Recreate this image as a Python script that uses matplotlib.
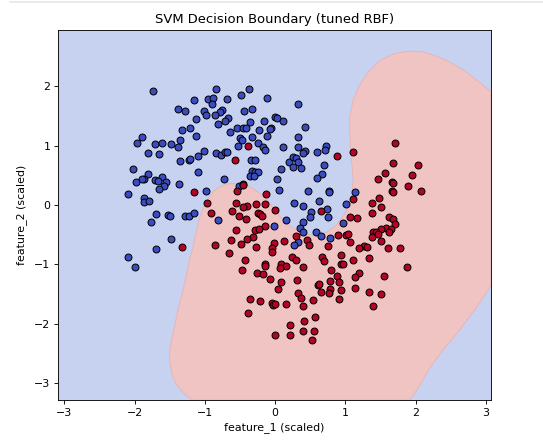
import matplotlib
matplotlib.use("Agg")
import matplotlib.pyplot as plt
from matplotlib.lines import Line2D

# class 0 points
blue_x = [-1.74,-0.84,-0.37,-0.48,-1.16,-0.96,-0.89,-0.69,-0.12,-0.90,0.33,-1.38,-1.28,-1.02,-0.99,-0.75,-0.79,-0.86,-0.44,-0.33,
          -0.01,0.02,0.11,-0.67,-0.71,-1.13,-0.82,-0.36,-0.16,-0.55,-0.46,-0.41,-0.23,-0.06,-0.07,0.42,-1.33,-1.21,-0.65,-1.90,
          -1.12,-1.36,-0.33,-0.12,-0.50,-0.47,0.33,-1.97,-1.71,-1.61,-1.48,-1.38,-0.53,-0.25,-0.18,-0.15,0.11,0.32,0.72,0.43,
          0.40,0.60,0.71,-1.81,-1.65,-1.01,-1.10,-0.84,-0.77,-0.71,-0.68,-1.35,-1.22,-1.21,-0.34,-0.29,0.19,0.26,0.30,0.33,
          0.25,0.36,0.70,-2.02,-1.10,0.08,-0.33,-0.29,-0.24,-1.81,-1.61,0.67,-1.87,-1.89,-0.36,-0.30,0.59,0.02,-0.73,-1.98,
          -1.71,-1.67,-1.56,-1.58,-1.37,-1.65,-0.52,0.05,-0.98,0.46,0.77,0.77,1.13,-2.09,-1.87,-1.87,-1.80,0.62,0.27,0.39,
          1.01,0.73,-1.70,-1.52,-1.50,-1.28,-1.23,-1.16,0.51,0.49,0.75,-1.77,-0.81,0.15,0.39,0.97,-0.02,0.35,0.40,0.58,
          0.65,0.78,-1.48,0.32,0.27,-1.70,-2.09,-1.99]
blue_y = [1.92,1.95,1.96,1.85,1.77,1.78,1.80,1.78,1.80,1.70,1.70,1.61,1.59,1.59,1.52,1.60,1.56,1.51,1.59,1.61,
          1.49,1.47,1.41,1.46,1.41,1.44,1.36,1.40,1.42,1.30,1.29,1.30,1.26,1.30,1.28,1.31,1.27,1.30,1.23,1.15,
          1.16,1.09,1.15,1.16,1.12,1.09,1.15,1.04,1.03,1.04,1.03,0.98,0.99,1.04,0.98,0.93,0.98,0.98,1.00,0.91,
          0.87,0.90,0.93,0.88,0.86,0.91,0.83,0.88,0.85,0.90,0.90,0.74,0.75,0.77,0.76,0.76,0.72,0.80,0.79,0.72,
          0.64,0.63,0.67,0.61,0.55,0.60,0.57,0.55,0.55,0.52,0.47,0.52,0.44,0.43,0.48,0.48,0.45,0.44,0.44,0.39,
          0.42,0.40,0.39,0.32,0.35,0.27,0.32,0.26,0.23,0.23,0.23,0.21,0.22,0.19,0.12,0.05,0.06,0.06,0.03,-0.01,
          0.02,-0.06,-0.15,-0.17,-0.19,-0.18,-0.18,-0.13,-0.12,-0.20,-0.21,-0.28,-0.25,-0.26,-0.28,-0.31,-0.36,-0.39,-0.45,-0.45,
          -0.53,-0.56,-0.57,-0.63,-0.67,-0.75,-0.87,-1.05]

# class 1 points
red_x = [1.71,1.10,0.88,-0.57,1.68,2.03,1.56,1.94,1.46,1.66,1.67,-0.46,-0.46,1.89,2.07,-1.15,-0.54,-0.13,1.66,1.68,
         1.48,1.11,-0.97,-0.56,-0.28,-0.40,-0.46,-0.14,1.38,1.50,0.00,-0.61,0.65,-0.92,1.38,-0.25,-0.22,-0.19,-0.51,-0.41,
         1.06,1.16,1.62,1.68,1.70,-0.15,-0.29,-0.23,-0.56,1.58,1.50,1.65,1.62,1.39,1.44,1.38,1.46,0.89,1.01,1.04,
         0.30,-0.31,-0.40,0.45,-0.63,-0.48,-0.02,0.13,1.07,1.51,-1.33,-0.86,0.48,-0.28,0.75,1.26,1.31,1.19,1.60,1.77,
         -0.05,-0.05,-0.66,0.94,-0.43,0.24,0.29,0.67,0.69,1.34,1.10,-0.14,0.08,-0.15,0.15,0.07,0.40,0.93,0.97,1.88,
         -0.47,0.79,-0.26,-0.18,1.19,-0.08,0.31,0.08,0.78,0.88,0.91,1.14,1.55,0.04,0.61,0.63,0.78,0.93,1.14,0.32,
         0.65,0.76,1.33,1.51,0.36,-0.36,-0.22,0.54,0.91,-0.04,-0.03,0.00,0.15,0.40,1.39,-0.38,0.57,0.41,0.21,0.00,
         0.21,0.39,0.55,0.52]
red_y = [1.04,0.90,0.82,0.76,0.70,0.67,0.53,0.50,0.44,0.39,0.37,0.36,0.33,0.32,0.24,0.22,0.23,0.19,0.23,0.21,
         0.11,0.10,0.04,0.03,0.02,-0.01,-0.03,0.01,0.04,-0.03,-0.09,-0.11,-0.10,-0.13,-0.13,-0.14,-0.15,-0.18,-0.19,-0.23,
         -0.21,-0.22,-0.20,-0.24,-0.32,-0.36,-0.42,-0.41,-0.42,-0.38,-0.41,-0.41,-0.45,-0.45,-0.46,-0.54,-0.49,-0.50,-0.50,-0.49,
         -0.52,-0.54,-0.57,-0.59,-0.59,-0.65,-0.64,-0.61,-0.63,-0.61,-0.71,-0.68,-0.68,-0.71,-0.69,-0.69,-0.70,-0.72,-0.72,-0.72,
         -0.73,-0.80,-0.81,-0.84,-0.92,-0.87,-0.92,-0.87,-0.94,-0.89,-0.93,-0.99,-0.99,-1.03,-1.03,-1.06,-1.04,-0.99,-0.99,-1.04,
         -1.10,-1.10,-1.15,-1.16,-1.15,-1.24,-1.26,-1.29,-1.28,-1.20,-1.29,-1.22,-1.20,-1.42,-1.34,-1.33,-1.41,-1.43,-1.40,-1.48,
         -1.47,-1.48,-1.47,-1.50,-1.57,-1.59,-1.62,-1.60,-1.58,-1.65,-1.68,-1.66,-1.66,-1.71,-1.70,-1.82,-1.89,-1.95,-2.02,-2.19,
         -2.19,-2.13,-2.12,-2.28]

# one class 1 point sits under the blue ones
hidden_x = [-0.38]
hidden_y = [0.99]

# outline of the class 1 region
region_x = [-1.19,-1.31,-1.41,-1.47,-1.50,-1.50,-1.47,-1.43,-1.39,-1.35,-1.30,-1.26,-1.22,-1.17,-1.13,-1.09,-1.04,-0.97,-0.87,-0.77,
            -0.65,-0.50,-0.36,-0.25,-0.13,-0.03,0.07,0.19,0.32,0.46,0.59,0.73,0.86,0.98,1.04,1.09,1.11,1.09,1.07,1.06,
            1.06,1.11,1.20,1.33,1.50,1.69,1.89,2.09,2.29,2.48,2.68,2.88,3.07,3.07,2.93,2.78,2.58,2.38,2.19,2.04,1.92]
region_y = [-3.285,-3.16,-3.02,-2.85,-2.65,-2.45,-2.26,-2.03,-1.80,-1.61,-1.38,-1.16,-0.93,-0.71,-0.48,-0.28,-0.09,0.08,0.24,0.32,
            0.36,0.36,0.31,0.22,0.11,-0.04,-0.20,-0.34,-0.44,-0.50,-0.52,-0.46,-0.35,-0.17,-0.03,0.17,0.42,0.70,0.98,1.21,
            1.49,1.77,2.02,2.25,2.44,2.55,2.59,2.58,2.51,2.41,2.27,2.09,1.91,-1.35,-1.61,-1.86,-2.17,-2.45,-2.76,-3.07,-3.285]

x_ticks = [-3, -2, -1, 0, 1, 2, 3]
y_ticks = [-3, -2, -1, 0, 1, 2]

W, H = 543, 443
DPI = 79
fig = plt.figure(figsize=(W / DPI, H / DPI), dpi=DPI)
ax = fig.add_axes([58 / W, 1 - 400 / H, 433 / W, 370 / H])
ax.set_facecolor("#c7d2f1")

ax.fill(region_x, region_y, facecolor="#f0c4c2", edgecolor="#e8b3b3", linewidth=0.8)

ax.scatter(hidden_x, hidden_y, s=40, c="#b40426", edgecolors="k", linewidths=0.9, zorder=3)
ax.scatter(blue_x, blue_y, s=40, c="#3b4cc0", edgecolors="k", linewidths=0.9, zorder=3)
ax.scatter(red_x, red_y, s=40, c="#b40426", edgecolors="k", linewidths=0.9, zorder=3)

ax.set_xticks(x_ticks)
ax.set_yticks(y_ticks)
ax.set_xlim(-3.09, 3.07)
ax.set_ylim(-3.285, 2.947)
ax.set_title("SVM Decision Boundary (tuned RBF)")
ax.set_xlabel("feature_1 (scaled)")
ax.set_ylabel("feature_2 (scaled)", labelpad=6.5)

# notebook cell border along the top of the screenshot
fig.add_artist(Line2D([10 / W, 1], [1 - 1.5 / H, 1 - 1.5 / H], color="#e6e6e6", linewidth=1.5))

fig.savefig("out.png", dpi=DPI)
